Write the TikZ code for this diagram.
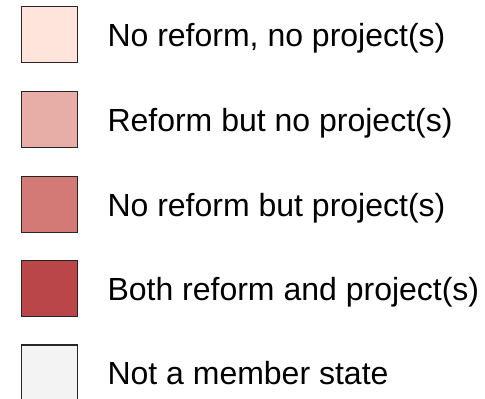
\documentclass[tikz,border=0pt]{standalone}
\usepackage{fontspec}
\setmainfont{Liberation Sans}
\usepackage{tikz}
\usetikzlibrary{
  positioning,
}
\definecolor{noneclr}{RGB}{254, 228, 218}
\definecolor{reformclr}{RGB}{231, 174, 167}
\definecolor{projectclr}{RGB}{211, 122, 119}
\definecolor{bothclr}{RGB}{187, 70, 73}
\definecolor{outsideclr}{RGB}{243, 243, 243}
\tikzstyle{legbox} = [
  rectangle,
  draw=black!85,
  line width=1.6pt,
  minimum width=56pt,
  minimum height=56pt,
  inner sep=0pt,
]
\tikzstyle{legtext} = [
  anchor=west,
  inner sep=0pt,
  text height=23pt,
  text depth=0pt,
  font=\fontsize{32}{38}\selectfont,
]

\begin{document}
\begin{tikzpicture}[x=1pt,y=-1pt,node distance=0mm and 29pt]
  \useasboundingbox (0,0) rectangle (485,399);

      \node[legbox,fill=noneclr] (box1) at (49.5,34.5) {};
      \node[legbox,fill=reformclr] (box2) at (49.5,119.5) {};
      \node[legbox,fill=projectclr] (box3) at (49.5,204.5) {};
      \node[legbox,fill=bothclr] (box4) at (49.5,288.5) {};
      \node[legbox,fill=outsideclr] (box5) at (49.5,373) {};

      \node[legtext,right=of box1] (lab1) {No reform, no project(s)};
      \node[legtext,right=of box2] (lab2) {Reform but no project(s)};
      \node[legtext,right=of box3] (lab3) {No reform but project(s)};
      \node[legtext,right=of box4] (lab4) {Both reform and project(s)};
      \node[legtext,right=of box5] (lab5) {Not a member state};
    \end{tikzpicture}
\end{document}
